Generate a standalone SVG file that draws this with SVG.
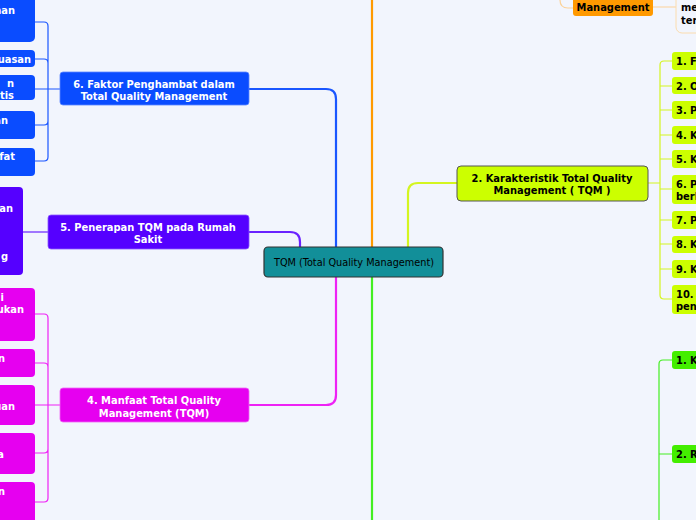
<svg xmlns="http://www.w3.org/2000/svg" width="696" height="520" viewBox="0 0 696 520">
<style>
.t{font-family:"DejaVu Sans Condensed","DejaVu Sans",Verdana,sans-serif;font-weight:bold;font-size:11px}
.w{fill:#ffffff}
.k{fill:#000000}
.c{font-family:"DejaVu Sans Condensed","DejaVu Sans",Verdana,sans-serif;font-size:10.8px;fill:#000}
.ln{fill:none;stroke-width:1.2}
.main{fill:none;stroke-width:2.2}
</style>
<rect x="0" y="0" width="696" height="520" fill="#f2f5fd"/>
<g id="connectors">
<path class="main" stroke="#1a56ff" d="M249,89 H326 Q336,89 336,99 V247"/>
<path class="main" stroke="#6a22ff" d="M249,232 H290 Q300,232 300,242 V247"/>
<path class="main" stroke="#ee22f5" d="M336,277 V395 Q336,405 326,405 H249"/>
<path class="main" stroke="#d4f520" d="M457,183 H418 Q408,183 408,193 V247"/>
<path class="main" stroke="#ff9a00" d="M372,0 V247"/>
<path class="main" stroke="#44ee22" d="M372,277 V520"/>
<path class="ln" stroke="#1a56ff" d="M35,22 H44 Q48,22 48,26 V157 Q48,161 44,161 H35 M35,59 H44 Q48,59 48,63 M35,89 H60 M35,125 H44 Q48,125 48,121"/>
<path class="ln" stroke="#6a22ff" d="M23,232 H48"/>
<path class="ln" stroke="#ee22f5" d="M35,314 H44 Q48,314 48,318 V498 Q48,502 44,502 H35 M35,363 H44 Q48,363 48,367 M35,405 H60 M35,453 H44 Q48,453 48,449"/>
<path class="ln" stroke="#d4f520" d="M648,183 H660 M672,61 H664 Q660,61 660,65 V295 Q660,299 664,299 H672 M672,86 H660 M672,110 H660 M672,135 H660 M672,159 H660 M672,189 H660 M672,220 H660 M672,244 H660 M672,269 H660"/>
<path class="ln" stroke="#44ee22" d="M672,360 H663 Q659,360 659,364 V520 M672,454 H659"/>
<path class="ln" stroke="#fbd29a" d="M560,0 Q560,8 568,8 H573 M653,7 H676"/>
</g>
<g id="center">
<rect x="264" y="247" width="179" height="30" rx="4" fill="#128f99" stroke="#333" stroke-width="1.2"/>
<text class="c" x="354" y="266" text-anchor="middle">TQM (Total Quality Management)</text>
</g>
<g id="n6">
<rect x="60" y="72" width="189" height="33" rx="3" fill="#0a4cff" stroke="#5a86ff" stroke-width="0.8"/>
<text class="t w" x="154" y="87.5" text-anchor="middle">6. Faktor Penghambat dalam</text>
<text class="t w" x="154" y="99.5" text-anchor="middle">Total Quality Management</text>
</g>
<g id="n6c1"><rect x="-10" y="-6" width="45" height="48" rx="5" fill="#0a4cff"/><text class="t w" x="15" y="14" text-anchor="end">nan</text></g>
<g id="n6c2"><rect x="-10" y="50" width="45" height="17" rx="4" fill="#0a4cff"/><text class="t w" x="31" y="63" text-anchor="end">uasan</text></g>
<g id="n6c3"><rect x="-10" y="75" width="45" height="25" rx="4" fill="#0a4cff"/><text class="t w" x="14" y="87" text-anchor="end">n</text><text class="t w" x="14" y="99" text-anchor="end">tis</text></g>
<g id="n6c4"><rect x="-10" y="111" width="45" height="28" rx="4" fill="#0a4cff"/><text class="t w" x="8" y="124" text-anchor="end">an</text></g>
<g id="n6c5"><rect x="-10" y="148" width="45" height="28" rx="4" fill="#0a4cff"/><text class="t w" x="15" y="160" text-anchor="end">fat</text></g>
<g id="n5">
<rect x="48" y="215" width="201" height="34" rx="3" fill="#5500ff" stroke="#8a55ff" stroke-width="0.8"/>
<text class="t w" x="148" y="231" text-anchor="middle">5. Penerapan TQM pada Rumah</text>
<text class="t w" x="148" y="243" text-anchor="middle">Sakit</text>
</g>
<g id="n5c1"><rect x="-10" y="187" width="33" height="88" rx="4" fill="#5500ff"/><text class="t w" x="13" y="212" text-anchor="end">an</text><text class="t w" x="8" y="260" text-anchor="end">g</text></g>
<g id="n4">
<rect x="60" y="388" width="189" height="34" rx="3" fill="#e600f0" stroke="#f066f5" stroke-width="0.8"/>
<text class="t w" x="154" y="404" text-anchor="middle">4. Manfaat Total Quality</text>
<text class="t w" x="154" y="416.5" text-anchor="middle">Management (TQM)</text>
</g>
<g id="n4c1"><rect x="-10" y="288" width="45" height="53" rx="4" fill="#e600f0"/><text class="t w" x="4" y="301" text-anchor="end">i</text><text class="t w" x="24" y="313" text-anchor="end">ukan</text></g>
<g id="n4c2"><rect x="-10" y="349" width="45" height="28" rx="4" fill="#e600f0"/><text class="t w" x="5" y="362" text-anchor="end">n</text></g>
<g id="n4c3"><rect x="-10" y="385" width="45" height="40" rx="4" fill="#e600f0"/><text class="t w" x="15" y="410" text-anchor="end">uan</text></g>
<g id="n4c4"><rect x="-10" y="433" width="45" height="41" rx="4" fill="#e600f0"/><text class="t w" x="4" y="458" text-anchor="end">a</text></g>
<g id="n4c5"><rect x="-10" y="482" width="45" height="50" rx="4" fill="#e600f0"/><text class="t w" x="5" y="495" text-anchor="end">n</text></g>
<g id="n2">
<rect x="457" y="166" width="191" height="35" rx="4" fill="#ccff00" stroke="#555" stroke-width="1"/>
<text class="t k" x="552" y="181.5" text-anchor="middle">2. Karakteristik Total Quality</text>
<text class="t k" x="552" y="194" text-anchor="middle">Management ( TQM )</text>
</g>
<g id="n2c1"><rect x="672" y="52" width="40" height="18" rx="3" fill="#ccff00"/><text class="t k" x="676" y="65">1. F</text></g>
<g id="n2c2"><rect x="672" y="77" width="40" height="17" rx="3" fill="#ccff00"/><text class="t k" x="676" y="90">2. O</text></g>
<g id="n2c3"><rect x="672" y="101" width="40" height="18" rx="3" fill="#ccff00"/><text class="t k" x="676" y="114">3. P</text></g>
<g id="n2c4"><rect x="672" y="126" width="40" height="18" rx="3" fill="#ccff00"/><text class="t k" x="676" y="139">4. K</text></g>
<g id="n2c5"><rect x="672" y="150" width="40" height="18" rx="3" fill="#ccff00"/><text class="t k" x="676" y="163">5. K</text></g>
<g id="n2c6"><rect x="672" y="175" width="40" height="29" rx="3" fill="#ccff00"/><text class="t k" x="676" y="188">6. P</text><text class="t k" x="676" y="200">berl</text></g>
<g id="n2c7"><rect x="672" y="211" width="40" height="18" rx="3" fill="#ccff00"/><text class="t k" x="676" y="224">7. P</text></g>
<g id="n2c8"><rect x="672" y="236" width="40" height="17" rx="3" fill="#ccff00"/><text class="t k" x="676" y="248">8. K</text></g>
<g id="n2c9"><rect x="672" y="260" width="40" height="18" rx="3" fill="#ccff00"/><text class="t k" x="676" y="273">9. K</text></g>
<g id="n2c10"><rect x="672" y="285" width="40" height="29" rx="3" fill="#ccff00"/><text class="t k" x="676" y="298">10.</text><text class="t k" x="676" y="310">pen</text></g>
<g id="n3c1"><rect x="672" y="351" width="40" height="18" rx="3" fill="#44ee00"/><text class="t k" x="676" y="364">1. K</text></g>
<g id="n3c2"><rect x="672" y="445" width="40" height="18" rx="3" fill="#44ee00"/><text class="t k" x="676" y="458">2. R</text></g>
<g id="n1">
<rect x="573" y="-10" width="80" height="26" rx="3" fill="#ff9900"/>
<text class="t k" x="613" y="11" text-anchor="middle">Management</text>
</g>
<g id="n1c1">
<rect x="676" y="-10" width="40" height="43" rx="6" fill="none" stroke="#fbdcae" stroke-width="1"/>
<text class="t k" x="681" y="11">me</text>
<text class="t k" x="681" y="24">ter</text>
</g>
</svg>
